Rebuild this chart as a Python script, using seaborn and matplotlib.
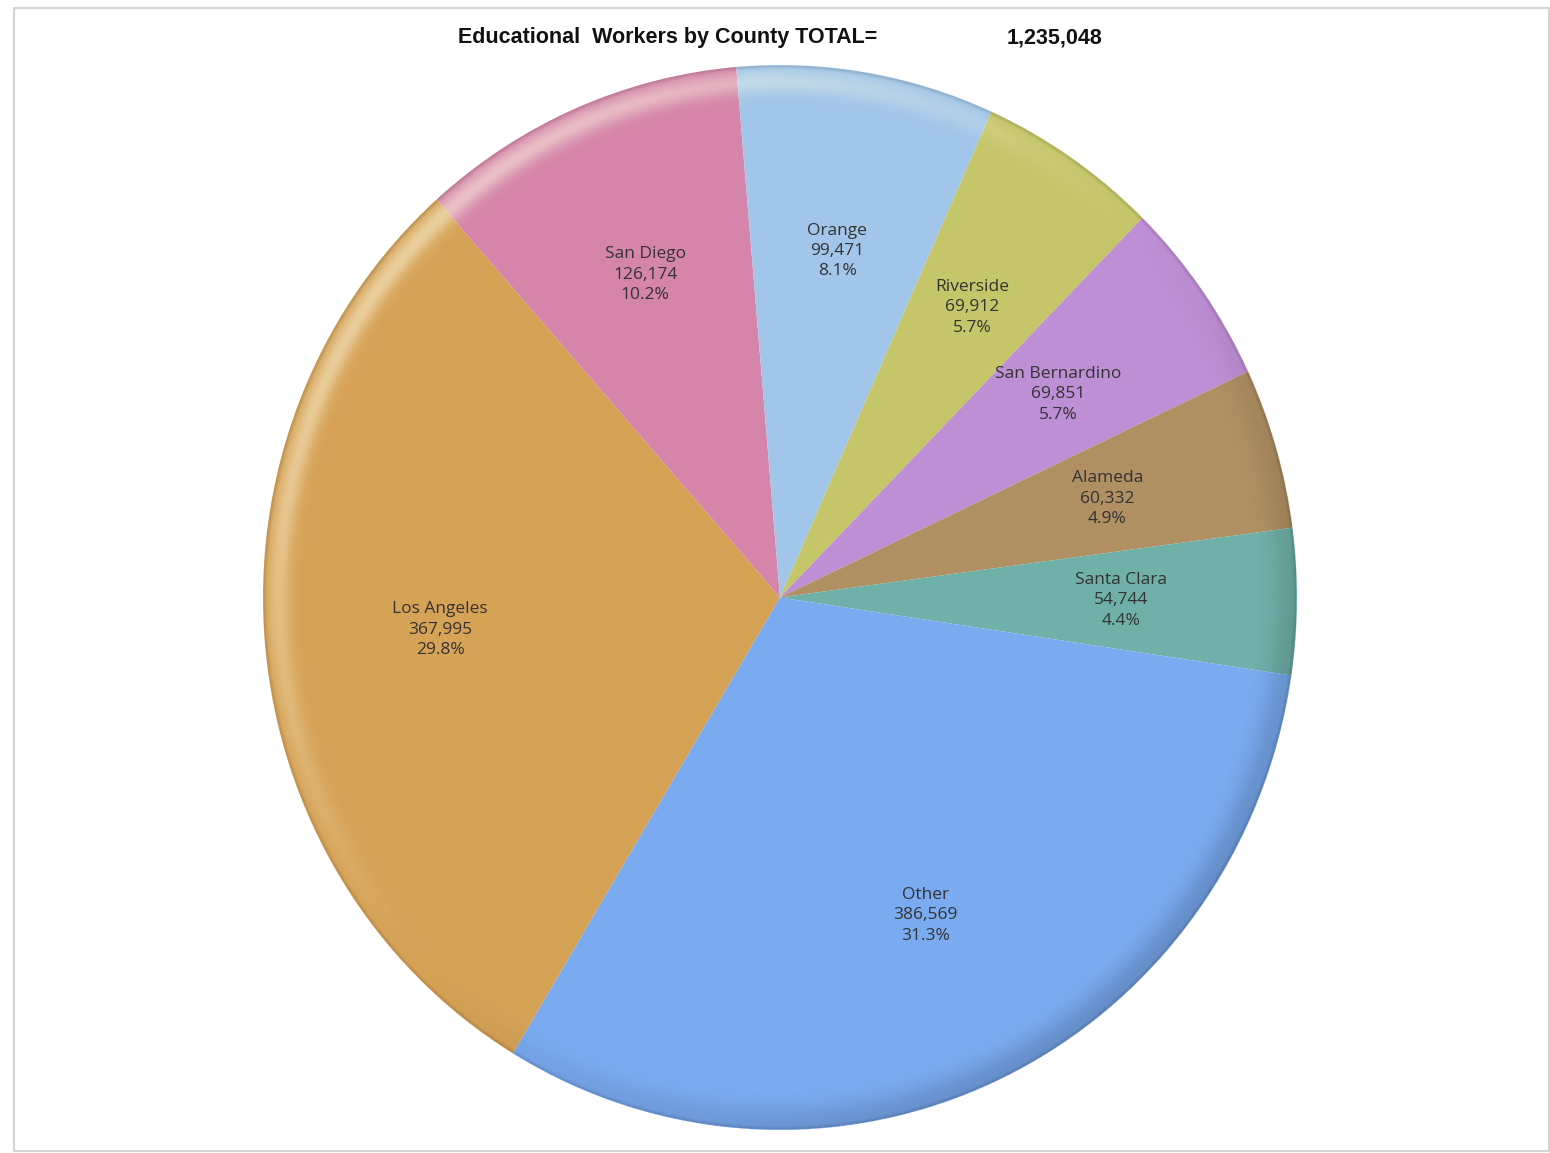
import numpy as np
import matplotlib
matplotlib.use("Agg")
import matplotlib.pyplot as plt
from matplotlib.patches import Rectangle, Ellipse
import seaborn as sns

# County totals, in drawing order (clockwise)
counties = ["Los Angeles", "San Diego", "Orange", "Riverside", "San Bernardino",
            "Alameda", "Santa Clara", "Other"]
workers = [367995, 126174, 99471, 69912, 69851, 60332, 54744, 386569]
slice_colors = ["#D6A256", "#D585A9", "#A2C6E9", "#C5C56A", "#BF8FD5",
                "#B08F63", "#6FB0A8", "#7AAAF0"]
title_text = "Educational  Workers by County TOTAL="

sns.set_theme(style="white")
plt.rcParams["font.family"] = ["Open Sans", "DejaVu Sans"]

W, H = 1550, 1153
fig = plt.figure(figsize=(W / 100, H / 100), dpi=100)
fig.patch.set_facecolor("white")

# pie area (slightly taller than wide)
left, right, top, bottom = 263, 1297, 65, 1130
ax = fig.add_axes([left / W, (H - bottom) / H, (right - left) / W, (bottom - top) / H])

total = sum(workers)
palette = sns.color_palette(slice_colors)
wedges, texts = ax.pie(workers, colors=palette, startangle=238.9, counterclock=False,
                       labels=[f"{c}\n{v:,}\n{v / total:.1%}" for c, v in zip(counties, workers)],
                       labeldistance=0.66, radius=1.0,
                       wedgeprops=dict(linewidth=0, antialiased=True))
for t in texts:
    t.set_horizontalalignment("center")
    t.set_verticalalignment("center")
    t.set_fontsize(12.5)
    t.set_color("#333333")
    t.set_linespacing(1.36)
    t.set_zorder(5)
ax.set_aspect("auto")
ax.set_xlim(-1, 1)
ax.set_ylim(-1, 1)
ax.axis("off")

# soft rounded bevel on the rim: light from the upper left, shade to the lower right
n = 1200
xs = np.linspace(-1, 1, n)
X, Y = np.meshgrid(xs, xs[::-1])
rho = np.hypot(X, Y)
theta = np.arctan2(Y, X)
d = 1 - rho
s = np.cos(theta - np.deg2rad(135))
band = np.exp(-((d - 0.03) / 0.022) ** 2)
rim = np.exp(-((d - 0.001) / 0.004) ** 2)
rgba = np.zeros((n, n, 4))
light = np.clip(s, 0, None) ** 1.2 * band * 0.5
dark = np.clip(-s, 0, None) * np.exp(-((d - 0.01) / 0.035) ** 2) * 0.16 + rim * 0.12
rgb_light = np.array([1.0, 1.0, 0.9])
alpha = np.clip(light + dark, 0, 1)
mix = np.where(alpha > 0, light / np.maximum(alpha, 1e-9), 0)
rgba[..., :3] = mix[..., None] * rgb_light[None, None, :]
rgba[..., 3] = alpha
rgba[rho > 1] = 0
im = ax.imshow(rgba, extent=[-1, 1, -1, 1], zorder=3, interpolation="bilinear", aspect="auto")
clip = Ellipse((0, 0), 2, 2, transform=ax.transData, facecolor="none", edgecolor="none")
ax.add_patch(clip)
im.set_clip_path(clip)
ax.set_xlim(-1, 1)
ax.set_ylim(-1, 1)

# title line
fig.text(668 / W, 1 - 38 / H, title_text, ha="center", va="center", fontsize=15.5,
         fontweight="bold", family=["Liberation Sans", "DejaVu Sans"], color="#111111")
fig.text(1055 / W, 1 - 38 / H, f"{total:,}", ha="center", va="center", fontsize=15.5,
         fontweight="bold", family=["Liberation Sans", "DejaVu Sans"], color="#111111")

# chart frame
fig.patches.append(Rectangle((14 / W, (H - 1151) / H), (1549 - 14) / W, (1151 - 8) / H,
                             transform=fig.transFigure, fill=False,
                             edgecolor="#d4d4d4", linewidth=1.5))

fig.savefig("out.png", dpi=100, facecolor="white")
